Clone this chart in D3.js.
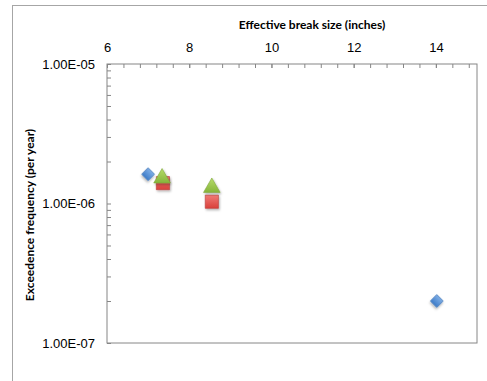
<!DOCTYPE html>
<html>
<head>
<meta charset="utf-8">
<script src="https://cdn.jsdelivr.net/npm/d3@7"></script>
<style>
  body { margin: 0; background: #fff; }
  svg { display: block; font-family: Lato, "Open Sans", sans-serif; }
  .axis path, .axis line { stroke: #868686; }
  .axis text { font-size: 13px; fill: #000; }
</style>
</head>
<body>
<div id="chart"></div>
<script>
// series data: effective break size (inches) vs exceedence frequency (per year)
const blueX = [7.0, 14.02];
const blueY = [1.62e-6, 2.0e-7];
const redX = [7.36, 8.55];
const redY = [1.4e-6, 1.03e-6];
const greenX = [7.34, 8.55];
const greenY = [1.52e-6, 1.3e-6];

const xTicks = [6, 8, 10, 12, 14];
const yTicks = [1e-7, 1e-6, 1e-5];

const width = 487, height = 381;

let svg = d3.select('#chart')
            .append('svg')
            .attr('width', width)
            .attr('height', height);

// outer chart frame (only top and left visible)
svg.append('rect')
   .attr('x', 12.5).attr('y', 5.5)
   .attr('width', 500).attr('height', 400)
   .attr('fill', 'none')
   .attr('stroke', '#a6a6a6');

let x = d3.scaleLinear().domain([6, 15]).range([107, 477]);
let y = d3.scaleLog().domain([1e-7, 1e-5]).range([343, 64]);

// shadow + gradients for the markers
let defs = svg.append('defs');
defs.append('filter').attr('id', 'shadow')
    .attr('x', '-50%').attr('y', '-50%').attr('width', '200%').attr('height', '200%')
    .append('feDropShadow')
    .attr('dx', 1).attr('dy', 1.5).attr('stdDeviation', 1)
    .attr('flood-color', '#000').attr('flood-opacity', 0.3);

function grad(id, c1, c2) {
  let g = defs.append('linearGradient').attr('id', id)
              .attr('x1', 0).attr('y1', 0).attr('x2', 0).attr('y2', 1);
  g.append('stop').attr('offset', '0%').attr('stop-color', c1);
  g.append('stop').attr('offset', '100%').attr('stop-color', c2);
}
grad('gBlue', '#7eaee6', '#3d7cc9');
grad('gRed', '#f07b76', '#d9403b');
grad('gGreen', '#b6dc6a', '#86b43a');

// plot frame
svg.append('rect')
   .attr('x', x(6)).attr('y', y(1e-5))
   .attr('width', x(15) - x(6)).attr('height', y(1e-7) - y(1e-5))
   .attr('fill', 'none')
   .attr('stroke', '#868686');

// top x axis, ticks inside
let minorX = d3.range(0, 23).map(i => 6 + i * 0.4);
svg.append('g').attr('class', 'axis')
   .attr('transform', `translate(0,${y(1e-5)})`)
   .call(d3.axisTop(x).tickValues(minorX).tickSizeInner(-4).tickSizeOuter(0).tickFormat(''))
   .call(g => g.select('.domain').remove());

svg.append('g').attr('class', 'axis')
   .attr('transform', `translate(0,${y(1e-5)})`)
   .call(d3.axisTop(x).tickValues(xTicks).tickSizeInner(-4).tickSizeOuter(0).tickPadding(12))
   .call(g => g.select('.domain').remove());

// left y axis, log minor ticks inside
let minorY = [];
[1e-7, 1e-6].forEach(d => { for (let k = 2; k <= 9; k++) minorY.push(d * k); });
svg.append('g').attr('class', 'axis')
   .attr('transform', `translate(${x(6)},0)`)
   .call(d3.axisLeft(y).tickValues(minorY).tickSizeInner(-4).tickSizeOuter(0).tickFormat(''))
   .call(g => g.select('.domain').remove());

let fmt = d => {
  let [m, e] = d.toExponential(2).toUpperCase().split('E');
  let n = +e;
  return m + 'E' + (n < 0 ? '-' : '+') + String(Math.abs(n)).padStart(2, '0');
};
svg.append('g').attr('class', 'axis')
   .attr('transform', `translate(${x(6)},0)`)
   .call(d3.axisLeft(y).tickValues(yTicks).tickSizeInner(-4).tickSizeOuter(0).tickPadding(12).tickFormat(fmt))
   .call(g => g.select('.domain').remove());

// axis titles
svg.append('text')
   .attr('x', 312).attr('y', 29)
   .attr('text-anchor', 'middle')
   .attr('font-size', 12).attr('font-weight', 'bold')
   .text('Effective break size (inches)');

svg.append('text')
   .attr('transform', 'translate(34,215) rotate(-90)')
   .attr('text-anchor', 'middle')
   .attr('font-size', 12).attr('font-weight', 'bold')
   .text('Exceedence frequency (per year)');

// markers
let plot = svg.append('g');

function drawSeries(xs, ys, type, size, fill, stroke, rot) {
  plot.append('g').selectAll('path')
      .data(xs.map((d, i) => [d, ys[i]]))
      .enter()
      .append('path')
      .attr('d', d3.symbol().type(type).size(size))
      .attr('transform', d => `translate(${x(d[0])},${y(d[1])}) rotate(${rot})`)
      .attr('fill', fill)
      .attr('stroke', stroke)
      .attr('stroke-width', 0.6)
      .attr('filter', 'url(#shadow)');
}

drawSeries(blueX, blueY, d3.symbolSquare, 80, 'url(#gBlue)', '#3a73b8', 45);
drawSeries(redX, redY, d3.symbolSquare, 175, 'url(#gRed)', '#b8403c', 0);
drawSeries(greenX, greenY, d3.symbolTriangle, 120, 'url(#gGreen)', '#7ea63a', 0);
</script>
</body>
</html>
